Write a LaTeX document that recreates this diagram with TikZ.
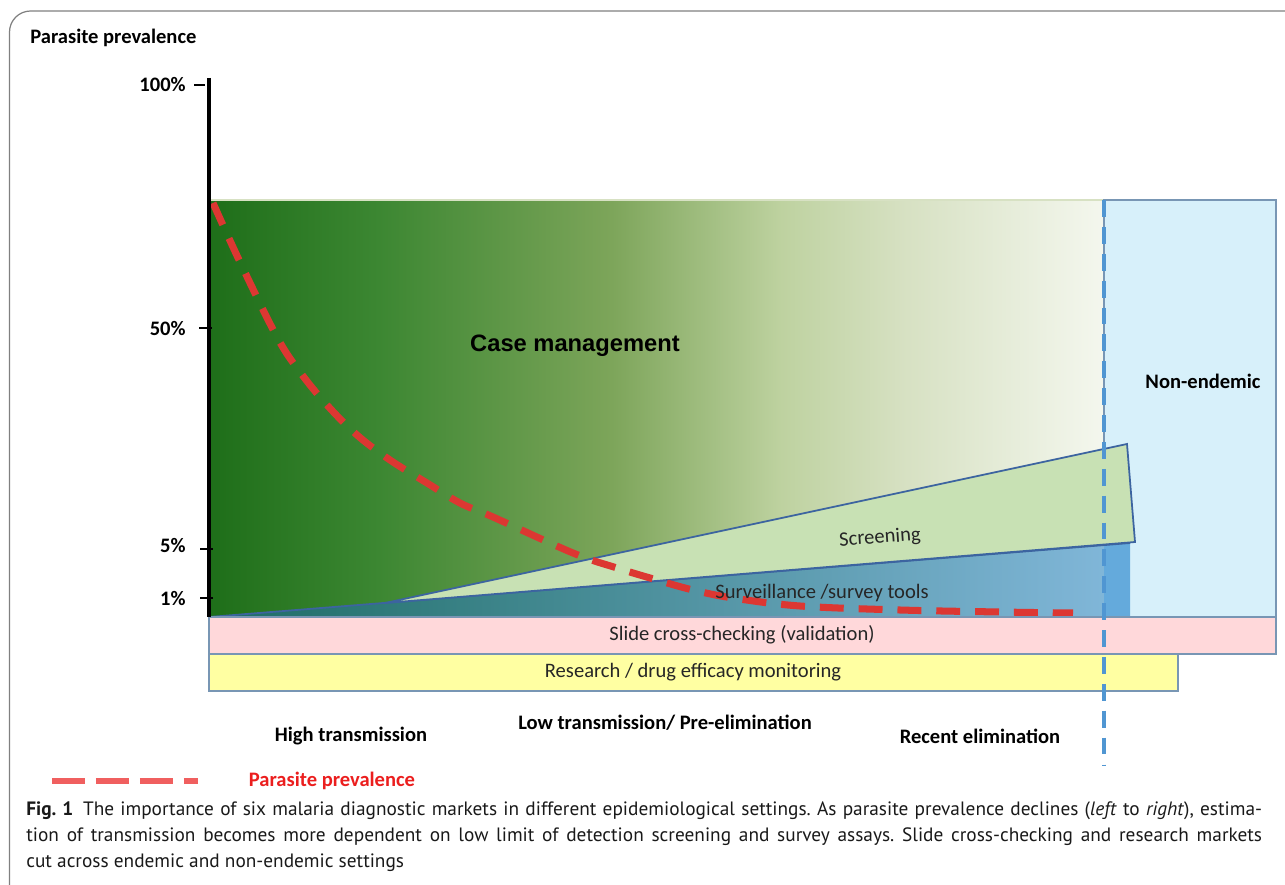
\documentclass[tikz,border=0pt]{standalone}
\usepackage{fontspec}
\setmainfont{Carlito}
\newfontfamily\casefont{Liberation Sans}
\newfontfamily\captfont{PT Sans}
\usepackage{xcolor}
\usepackage{tikz}
\frenchspacing

\definecolor{cmA}{RGB}{30,110,25}
\definecolor{cmB}{RGB}{60,135,50}
\definecolor{cmC}{RGB}{125,165,90}
\definecolor{cmD}{RGB}{190,210,160}
\definecolor{cmE}{RGB}{215,225,195}
\definecolor{cmF}{RGB}{244,247,238}
\definecolor{svA}{RGB}{28,108,100}
\definecolor{svB}{RGB}{128,182,216}
\definecolor{svC}{RGB}{100,170,220}
\definecolor{scrfill}{RGB}{200,225,180}
\definecolor{edgeblue}{RGB}{60,100,160}
\definecolor{nefill}{RGB}{215,240,250}
\definecolor{pinkfill}{RGB}{255,216,218}
\definecolor{yellfill}{RGB}{255,255,162}
\definecolor{bandedge}{RGB}{120,150,180}
\definecolor{elimblue}{RGB}{80,150,210}
\definecolor{curvered}{RGB}{220,55,50}
\definecolor{legred}{RGB}{240,95,95}
\definecolor{legtext}{RGB}{235,30,30}

\pgfdeclarehorizontalshading{casegrad}{100bp}{color(0bp)=(cmA); color(25bp)=(cmA); color(34.5bp)=(cmB); color(47.5bp)=(cmC); color(57bp)=(cmD); color(64bp)=(cmE); color(75bp)=(cmF); color(100bp)=(cmF)}

\begin{document}
\begin{tikzpicture}[x=0.02cm, y=-0.02cm,
  lbl/.style={font=\fontsize{11.7}{14}\selectfont\bfseries, inner sep=0pt},
  txt/.style={font=\fontsize{11.7}{14}\selectfont, text=black!85, inner sep=0pt},
  tickmark/.style={line width=1.2pt},
  band/.style={draw=bandedge, line width=0.6pt}]
\useasboundingbox (0,0) rectangle (1285,885);
\draw[gray, line width=0.7pt, rounded corners=12] (9.5,11) rectangle (1320,920);

\shade[shading=casegrad] (209,200) rectangle (1104,617);
\draw[cmE, line width=0.6pt] (209,200) -- (1104,200);
\draw[draw=bandedge, fill=nefill, line width=0.8pt] (1104,200) rectangle (1276,617);

\shade[left color=svA, right color=svB] (209,617) -- (1104,545) -- (1104,617) -- cycle;
\fill[svC] (1104,545) -- (1130,543) -- (1130,617) -- (1104,617) -- cycle;
\draw[edgeblue, line width=1pt] (209,617) -- (1130,543);
\draw[edgeblue, fill=scrfill, line width=1pt] (385,603) -- (1127,444) -- (1135,542) -- cycle;

\draw[curvered, line width=4pt, dash pattern=on 13.6pt off 8.5pt] plot[smooth, tension=0.6] coordinates {(213,203) (240,262) (277,337) (300,372) (327,405) (357,435) (390,460) (427,483) (460,503) (493,517) (573,553) (617,568) (657,580) (693,590) (733,598) (800,606) (900,610) (1000,612) (1073,613)};

\draw[band, fill=pinkfill] (209,617) rectangle (1276,654);
\draw[band, fill=yellfill] (209,654) rectangle (1178,691);

\draw[elimblue, line width=2pt, dash pattern=on 9.6pt off 5.7pt] (1104,200) -- (1104,765);

\draw[line width=2.3pt] (209,78) -- (209,617);
\draw[tickmark] (194,85) -- (205,85);
\draw[tickmark] (199,328) -- (212,328);
\draw[tickmark] (200,549) -- (213,549);
\draw[tickmark] (200,598) -- (213,598);

\node[lbl, anchor=west] (ytitle) at (30,38) {Parasite prevalence};
\node[lbl, anchor=east] (p100) at (186,85) {100\%};
\node[lbl, anchor=east] (p50) at (186,328) {50\%};
\node[lbl, anchor=east] (p5) at (186,545) {5\%};
\node[lbl, anchor=east] (p1) at (186,598) {1\%};

\node[font=\casefont\fontsize{13.5}{16}\selectfont\bfseries, inner sep=0pt] (casemgmt) at (575,346) {Case management};
\node[lbl] (nonend) at (1203,381) {Non-endemic};
\node[txt, rotate=4] (screen) at (880,538) {Screening};
\node[txt] (surv) at (822,593) {Surveillance /survey tools};
\node[txt] (slide) at (742,635) {Slide cross-checking (validation)};
\node[txt] (research) at (693,672) {Research / drug efficacy monitoring};

\node[lbl] (hightr) at (351,736) {High transmission};
\node[lbl] (lowtr) at (665,723) {Low transmission/ Pre-elimination};
\node[lbl] (recent) at (980,736) {Recent elimination};

\coordinate (legA) at (52,781);
\coordinate (legB) at (198,781);
\draw[legred, line width=3.4pt, dash pattern=on 19pt off 6pt] (legA) -- (legB);
\node[lbl, text=legtext] (legtxt) at (332,781) {Parasite prevalence};

\node[font=\captfont\fontsize{11}{15}\selectfont, text width=24.72cm, align=justify, anchor=north west, inner sep=0pt, text=black!90] (caption) at (26,801)
  {\textbf{Fig. 1}\enspace The importance of six malaria diagnostic markets in different epidemiological settings. As parasite prevalence declines (\textit{left} to \textit{right}), estima-\linebreak
   tion of transmission becomes more dependent on low limit of detection screening and survey assays. Slide cross-checking and research markets\linebreak
   cut across endemic and non-endemic settings};
\end{tikzpicture}
\end{document}
